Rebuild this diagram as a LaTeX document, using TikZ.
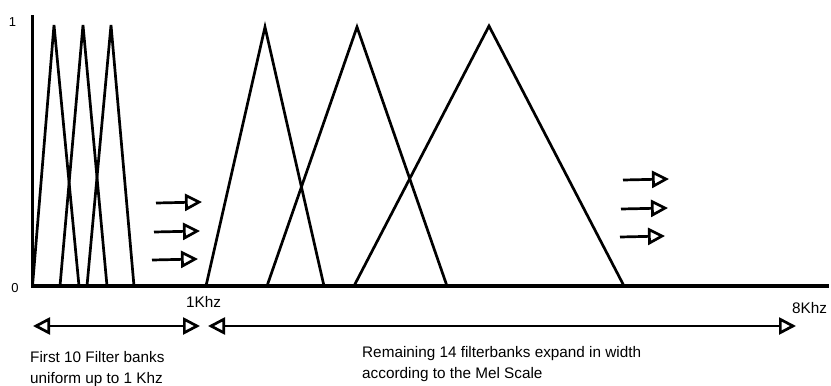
\documentclass[tikz,border=0pt]{standalone}
\usepackage{fontspec}
\setmainfont{Liberation Sans}
\usetikzlibrary{arrows.meta}
\begin{document}
\begin{tikzpicture}[x=1pt,y=-1pt,
  axisline/.style={line width=3.2pt},
  filt/.style={line width=2.7pt, line join=miter},
  movearrow/.style={line width=2.7pt,-{Triangle[open,length=17pt,width=17pt]}},
  spanarrow/.style={line width=2.7pt,{Triangle[open,length=17pt,width=17pt]}-{Triangle[open,length=17pt,width=17pt]}},
  lbl/.style={inner sep=0pt,font=\fontsize{15.3}{18}\selectfont},
  axlbl/.style={inner sep=0pt,font=\fontsize{13}{15}\selectfont}]
\useasboundingbox (0,0) rectangle (831,386);
% axes
\coordinate (top) at (32.5,15);
\coordinate (orig) at (32.5,286);
\coordinate (xend) at (829,286);
\draw[axisline] (top) -- (orig) -- (xend);
\node[axlbl,anchor=base] (one) at (12.5,26) {1};
\node[axlbl,anchor=base] (zero) at (15,292) {0};
% uniform filters
\draw[filt] (32.5,286) -- (54,25) -- (79,286);
\draw[filt] (60,286) -- (83,25) -- (107,286);
\draw[filt] (87,286) -- (111,25) -- (134,286);
% mel filters
\draw[filt] (206,286) -- (265,27) -- (324,286);
\draw[filt] (267,286) -- (357,27) -- (447,286);
\draw[filt] (354,286) -- (489,26) -- (624,286);
% small arrows left
\coordinate (la1) at (156,203); \coordinate (lb1) at (202,202);
\coordinate (la2) at (154,232); \coordinate (lb2) at (200,231);
\coordinate (la3) at (152,260); \coordinate (lb3) at (198,259);
\draw[movearrow] (la1) -- (lb1);
\draw[movearrow] (la2) -- (lb2);
\draw[movearrow] (la3) -- (lb3);
% small arrows right
\coordinate (ra1) at (623,180); \coordinate (rb1) at (669,179);
\coordinate (ra2) at (621,209); \coordinate (rb2) at (668,208);
\coordinate (ra3) at (620,237); \coordinate (rb3) at (665,236);
\draw[movearrow] (ra1) -- (rb1);
\draw[movearrow] (ra2) -- (rb2);
\draw[movearrow] (ra3) -- (rb3);
% frequency labels
\node[lbl,anchor=base west] (k1) at (186,307) {1Khz};
\node[lbl,anchor=base west] (k8) at (792,313) {8Khz};
% span arrows
\coordinate (s1a) at (33,326); \coordinate (s1b) at (200,326);
\coordinate (s2a) at (208,326); \coordinate (s2b) at (796,326);
\draw[spanarrow] (s1a) -- (s1b);
\draw[spanarrow] (s2a) -- (s2b);
% captions
\node[lbl,anchor=base west] (c1a) at (30,362) {First 10 Filter banks};
\node[lbl,anchor=base west] (c1b) at (30,383) {uniform up to 1 Khz};
\node[lbl,anchor=base west] (c2a) at (362,357) {Remaining 14 filterbanks expand in width};
\node[lbl,anchor=base west] (c2b) at (362,378) {according to the Mel Scale};
\end{tikzpicture}
\end{document}
